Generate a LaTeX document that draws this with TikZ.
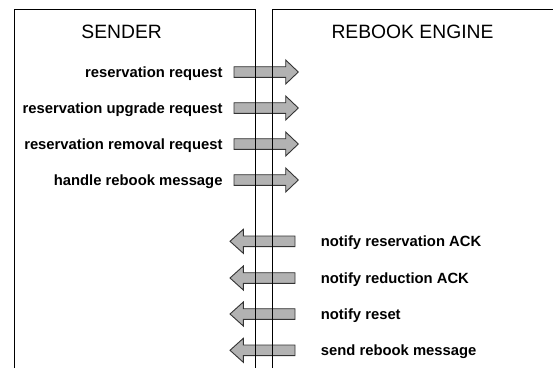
\documentclass[tikz,border=0pt]{standalone}
\usepackage{fontspec}
\setmainfont{Liberation Sans}
\begin{document}
\begin{tikzpicture}[x=1pt,y=-1pt,
  frame/.style={draw=black, line width=1pt},
  title/.style={font=\fontsize{19.3}{22}\selectfont, anchor=base, inner sep=0pt},
  msg/.style={font=\fontsize{14.8}{17}\selectfont\bfseries, inner sep=0pt},
  blockarrow/.style={draw=black!80, fill=black!30, line width=0.9pt, line join=miter},
  % block arrow pointing right, drawn from its tail
  pics/toright/.style={code={
    \draw[blockarrow] (0,-5.3) -- (51.7,-5.3) -- (51.7,-12) -- (64.3,0)
      -- (51.7,12) -- (51.7,5.3) -- (0,5.3) -- cycle;}},
  % block arrow pointing left, drawn from its tip
  pics/toleft/.style={code={
    \draw[blockarrow] (0,0) -- (13.3,-12) -- (13.3,-5.3) -- (65,-5.3)
      -- (65,5.3) -- (13.3,5.3) -- (13.3,12) -- cycle;}}
]
\useasboundingbox (0,0) rectangle (553,368);

% outgoing messages
\foreach \name/\y/\txt in {r1/72/reservation request,
                           r2/108/reservation upgrade request,
                           r3/144/reservation removal request,
                           r4/180/handle rebook message}{
  \pic at (234,\y) {toright};
  \node[msg, anchor=base east] (\name) at (222.7,\y+5.4) {\txt};
}

% incoming messages
\foreach \name/\y/\txt in {a1/241.3/notify reservation ACK,
                           a2/278/notify reduction ACK,
                           a3/314/notify reset,
                           a4/350.3/send rebook message}{
  \pic at (230,\y) {toleft};
  \node[msg, anchor=base west] (\name) at (320.7,\y+5.4) {\txt};
}

% the two lanes
\draw[frame] (14,368) -- (14,9.5) -- (255.5,9.5) -- (255.5,368);
\draw[frame] (272.5,368) -- (272.5,9.5) -- (553,9.5);

\node[title] (sender) at (121.7,38.8) {SENDER};
\node[title] (engine) at (412.5,38.8) {REBOOK ENGINE};
\end{tikzpicture}
\end{document}
